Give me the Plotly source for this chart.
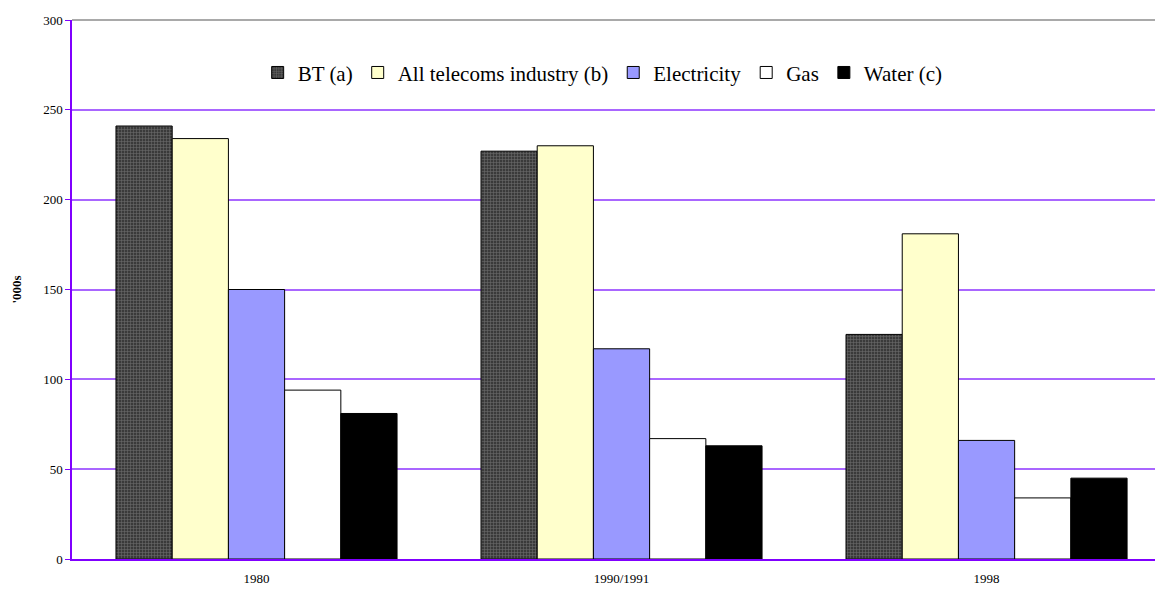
import plotly.graph_objects as go

years = ["1980", "1990/1991", "1998"]
bt = [241, 227, 125]
telecoms = [234, 230, 181]
electricity = [150, 117, 66]
gas = [94, 67, 34]
water = [81, 63, 45]

series = [
    ("BT (a)", bt, "#3a3a3a", dict(shape="+", fgcolor="#9a9a9a", bgcolor="#3a3a3a", size=3, solidity=0.35)),
    ("All telecoms industry (b)", telecoms, "#ffffcc", None),
    ("Electricity", electricity, "#9999ff", None),
    ("Gas", gas, "#ffffff", None),
    ("Water (c)", water, "#000000", None),
]

fig = go.Figure()
for name, vals, color, pattern in series:
    marker = dict(color=color, line=dict(color="#000000", width=1))
    if pattern:
        marker["pattern"] = pattern
    fig.add_trace(go.Bar(name=name, x=years, y=vals, marker=marker))

serif = "Liberation Serif"

fig.update_layout(
    width=1155, height=595,
    margin=dict(l=72, r=0, t=20, b=36),
    paper_bgcolor="white", plot_bgcolor="white",
    barmode="group", bargap=0.23, bargroupgap=0,
    font=dict(family=serif, color="#000000", size=13),
    showlegend=True,
    legend=dict(orientation="h", x=0.49, xanchor="center", y=0.902, yanchor="middle",
                font=dict(family=serif, size=21, color="#000000"), bgcolor="rgba(0,0,0,0)",
                itemwidth=30, tracegroupgap=0, traceorder="normal"),
    xaxis=dict(range=[-0.5055, 2.4615], showgrid=False, showline=True, linecolor="#8000ff",
               linewidth=2, ticks="", tickfont=dict(family=serif, size=13), ticklabelstandoff=6),
    yaxis=dict(range=[0, 300], dtick=50, showgrid=True, gridcolor="#a966ff", gridwidth=1.5,
               showline=True, linecolor="#8000ff", linewidth=1.5, ticks="outside", ticklen=5,
               tickcolor="#8000ff", tickfont=dict(family=serif, size=13), zeroline=False,
               title=dict(text="<b>'000s</b>", font=dict(family=serif, size=13), standoff=19)),
)

# grey frame line along the top of the plot area
fig.add_shape(type="line", xref="paper", yref="paper", x0=0, x1=1, y0=1, y1=1,
              line=dict(color="#8c8c8c", width=1.5))

fig.write_html("out.html")
